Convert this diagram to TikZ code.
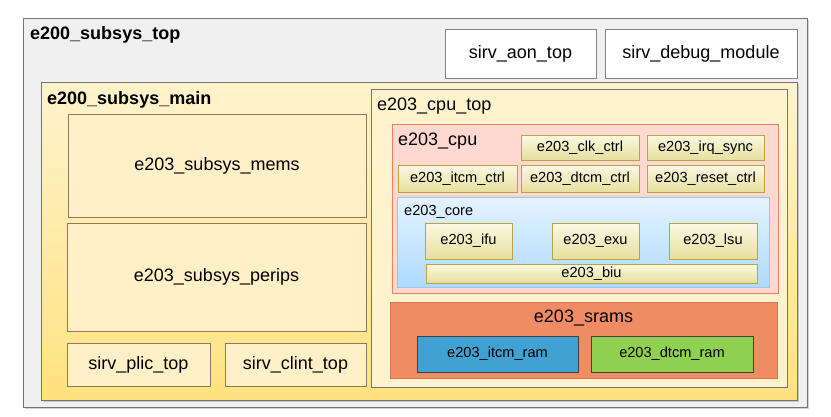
\documentclass[tikz,border=0pt]{standalone}
\usepackage{fontspec}
\setmainfont{Liberation Sans}
\usepackage{tikz}
\usetikzlibrary{shadows}
\definecolor{topfill}{HTML}{F0F0F0}
\definecolor{mainlo}{HTML}{FFE27E}
\definecolor{mainhi}{HTML}{FFF3CE}
\definecolor{pale}{HTML}{FFF0C8}
\definecolor{cpufill}{HTML}{FFD9D0}
\definecolor{cpuline}{HTML}{F08060}
\definecolor{ctrlhi}{HTML}{FBF9E2}
\definecolor{ctrllo}{HTML}{E6DF9F}
\definecolor{ctrlline}{HTML}{B5A545}
\definecolor{corehi}{HTML}{E4F3FF}
\definecolor{corelo}{HTML}{AEDAFF}
\definecolor{coreline}{HTML}{9CC6EE}
\definecolor{sramfill}{HTML}{F08C64}
\definecolor{sramline}{HTML}{DC7650}
\definecolor{itcmfill}{HTML}{40A2D2}
\definecolor{dtcmfill}{HTML}{90D050}

\begin{document}
\begin{tikzpicture}[x=1pt,y=-1pt,
  big/.style={font=\fontsize{18}{21}\selectfont},
  small/.style={font=\fontsize{14.6}{17}\selectfont},
  bx/.style={draw,inner sep=0pt,outer sep=0pt,line width=0.8pt,align=center},
  lbl/.style={inner sep=0pt,anchor=base west},
  grp/.style={bx,draw=black!55},
  sub/.style={bx,big,fill=pale,draw=black!50!brown!70},
  ctl/.style={bx,small,top color=ctrlhi,bottom color=ctrllo,draw=ctrlline},
  ram/.style={bx,small,draw=black!75}]
\useasboundingbox (0,0) rectangle (831,416);

\node[grp,fill=topfill,minimum width=784pt,minimum height=389pt,
  drop shadow={opacity=0.35,shadow xshift=1.5pt,shadow yshift=-1.5pt}] (top) at (415,212.5) {};
\node[lbl,font=\fontsize{18}{21}\selectfont\bfseries] (toplbl) at (30,39) {e200\_subsys\_top};
\node[bx,big,fill=white,draw=black!50,minimum width=151pt,minimum height=49pt] (aon) at (520.5,53.5) {sirv\_aon\_top};
\node[bx,big,fill=white,draw=black!50,minimum width=192pt,minimum height=49pt] (dbg) at (701,53.5) {sirv\_debug\_module};

\node[grp,top color=mainhi,bottom color=mainlo,minimum width=756pt,minimum height=318pt,
  drop shadow={opacity=0.35,shadow xshift=1.5pt,shadow yshift=-1.5pt}] (main) at (419,241) {};
\node[lbl,font=\fontsize{18}{21}\selectfont\bfseries] (mainlbl) at (47,104) {e200\_subsys\_main};
\node[sub,minimum width=298pt,minimum height=103pt] (mems) at (217,165.5) {e203\_subsys\_mems};
\node[sub,minimum width=299pt,minimum height=108pt] (perips) at (216.5,277) {e203\_subsys\_perips};
\node[sub,minimum width=143pt,minimum height=43pt] (plic) at (138.5,364.5) {sirv\_plic\_top};
\node[sub,minimum width=141pt,minimum height=43pt] (clint) at (295.5,364.5) {sirv\_clint\_top};

\node[grp,fill=mainhi,minimum width=416pt,minimum height=298pt] (cputop) at (579,238) {};
\node[lbl,big] (cputoplbl) at (377,110) {e203\_cpu\_top};

\node[bx,fill=cpufill,draw=cpuline,minimum width=386pt,minimum height=169pt] (cpu) at (585,208.5) {};
\node[lbl,big] (cpulbl) at (398,145) {e203\_cpu};
\node[ctl,minimum width=118pt,minimum height=25pt] (clk) at (580,147.5) {e203\_clk\_ctrl};
\node[ctl,minimum width=117pt,minimum height=25pt] (irq) at (705.5,147.5) {e203\_irq\_sync};
\node[ctl,minimum width=119pt,minimum height=27pt] (itcmc) at (457.5,178.5) {e203\_itcm\_ctrl};
\node[ctl,minimum width=118pt,minimum height=27pt] (dtcmc) at (580,178.5) {e203\_dtcm\_ctrl};
\node[ctl,minimum width=117pt,minimum height=27pt] (rst) at (705.5,178.5) {e203\_reset\_ctrl};

\node[bx,top color=corehi,bottom color=corelo,draw=coreline,minimum width=372pt,minimum height=90pt] (core) at (583,242) {};
\node[lbl,small] (corelbl) at (404,215) {e203\_core};
\node[ctl,minimum width=87pt,minimum height=36pt] (ifu) at (468.5,241) {e203\_ifu};
\node[ctl,minimum width=87pt,minimum height=36pt] (exu) at (595.5,241) {e203\_exu};
\node[ctl,minimum width=88pt,minimum height=36pt] (lsu) at (713,241) {e203\_lsu};
\node[ctl,minimum width=331pt,minimum height=19pt] (biu) at (591.5,273.5) {e203\_biu};

\node[bx,fill=sramfill,draw=sramline,minimum width=387pt,minimum height=76pt] (srams) at (583.5,340) {};
\node[big,inner sep=0pt,anchor=base] (sramslbl) at (583.5,322) {e203\_srams};
\node[ram,fill=itcmfill,minimum width=161pt,minimum height=36pt] (itcm) at (497.5,354) {e203\_itcm\_ram};
\node[ram,fill=dtcmfill,minimum width=162pt,minimum height=36pt] (dtcm) at (672,354) {e203\_dtcm\_ram};
\end{tikzpicture}
\end{document}
